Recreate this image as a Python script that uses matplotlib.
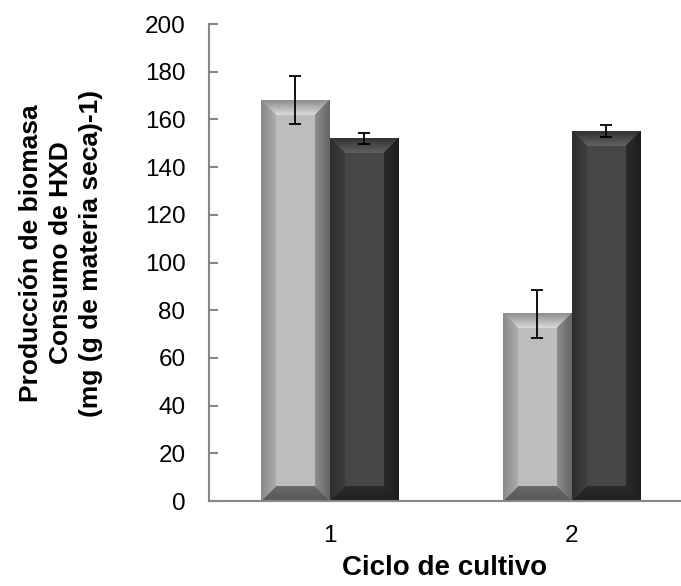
import numpy as np
import matplotlib
matplotlib.use('Agg')
import matplotlib.pyplot as plt

plt.rcParams['font.family'] = ['Liberation Sans', 'DejaVu Sans']

# datos por ciclo de cultivo
ciclos = ['1', '2']
biomasa = [168, 78.5]
biomasa_err = [10, 10]
consumo = [152, 155]
consumo_err = [2.3, 2.5]

ancho = 0.285
bisel = 15  # px

# (exterior, interior) para cada lado del bisel
estilo_claro = dict(face=0.745, left=(0.54, 0.68), right=(0.40, 0.56),
                    top=(0.56, 0.87), bottom=(0.34, 0.42))
estilo_oscuro = dict(face=0.275, left=(0.18, 0.24), right=(0.11, 0.17),
                     top=(0.20, 0.39), bottom=(0.12, 0.17))


def imagen_bisel(w, h, face, left, right, top, bottom, b=bisel):
    c = np.arange(w)[None, :].repeat(h, 0).astype(float)
    r = np.arange(h)[:, None].repeat(w, 1).astype(float)
    d = np.stack([c, w - 1 - c, r, h - 1 - r])
    m = d.min(0)
    lado = d.argmin(0)
    t = np.clip(m / b, 0, 1)
    img = np.full((h, w), face)
    for k, (o, i) in enumerate([left, right, top, bottom]):
        sel = (lado == k) & (m < b)
        img[sel] = o * (1 - t[sel]) + i * t[sel]
    return np.dstack([img, img, img])


fig = plt.figure(figsize=(6.81, 5.86), dpi=100)
ax = fig.add_axes([0.3069, 0.145, 0.6931, 0.814])
ax.set_xlim(-0.498, 1.452)
ax.set_ylim(0, 200)

x = np.arange(len(ciclos))


def barra(xc, valor, estilo):
    x0, x1 = xc - ancho / 2, xc + ancho / 2
    p0 = ax.transData.transform((x0, 0))
    p1 = ax.transData.transform((x1, valor))
    w = max(int(round(p1[0] - p0[0])), 2)
    h = max(int(round(p1[1] - p0[1])), 2)
    ax.imshow(imagen_bisel(w, h, **estilo), extent=(x0, x1, 0, valor),
              aspect='auto', interpolation='nearest', zorder=2)


for i in range(len(ciclos)):
    barra(x[i] - ancho / 2, biomasa[i], estilo_claro)
    barra(x[i] + ancho / 2, consumo[i], estilo_oscuro)

ax.errorbar(x - ancho / 2, biomasa, yerr=biomasa_err, fmt='none', ecolor='black',
            elinewidth=1.3, capsize=4.5, capthick=1.3, zorder=3)
ax.errorbar(x + ancho / 2, consumo, yerr=consumo_err, fmt='none', ecolor='black',
            elinewidth=1.3, capsize=4.5, capthick=1.3, zorder=3)

ax.set_xlim(-0.498, 1.452)
ax.set_ylim(0, 200)
ax.set_yticks(range(0, 201, 20))
ax.set_xticks(x)
ax.set_xticklabels(ciclos)

for s in ['top', 'right']:
    ax.spines[s].set_visible(False)
for s in ['left', 'bottom']:
    ax.spines[s].set_color('#868686')
    ax.spines[s].set_linewidth(1.5)

ax.tick_params(axis='y', direction='in', length=6.5, width=1.5, color='#868686',
               labelsize=17.5, pad=17)
ax.tick_params(axis='x', length=0, labelsize=17.5, pad=17)

ax.set_xlabel('Ciclo de cultivo', fontsize=20, fontweight='bold')
ax.xaxis.set_label_coords(0.5, -0.113)
ax.set_ylabel('Producción de biomasa\nConsumo de HXD\n(mg (g de materia seca)-1)',
              fontsize=19, fontweight='bold', linespacing=1.3)
ax.yaxis.set_label_coords(-0.225, 0.52)

fig.savefig('out.png', dpi=100)
